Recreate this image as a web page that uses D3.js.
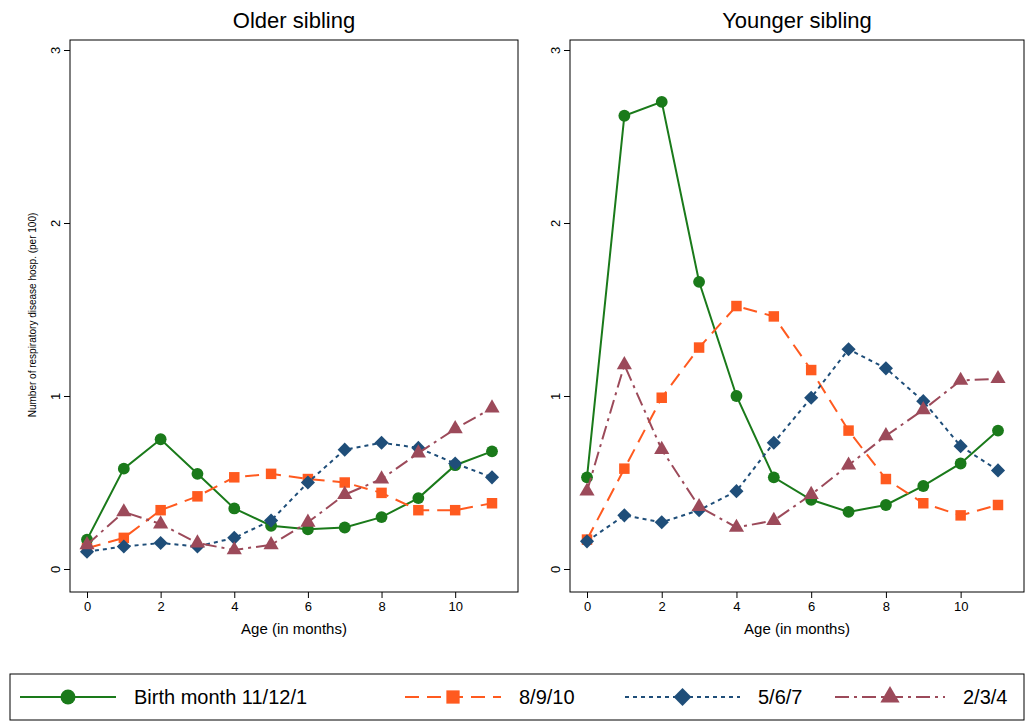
<!DOCTYPE html>
<html><head><meta charset="utf-8">
<script src="https://cdn.jsdelivr.net/npm/d3@7"></script>
<style>body{margin:0;background:#fff;font-family:Arial,"Liberation Sans",sans-serif}</style>
</head><body><svg id="chart" width="1026" height="721"></svg>
<script>
var months = [0,1,2,3,4,5,6,7,8,9,10,11];
var xTicks = [0,2,4,6,8,10];
var yTicks = [0,1,2,3];
var panelTitles = ['Older sibling','Younger sibling'];
var seriesNames = ['Birth month 11/12/1','8/9/10','5/6/7','2/3/4'];
var olderGreen  = [0.17,0.58,0.75,0.55,0.35,0.25,0.23,0.24,0.30,0.41,0.60,0.68];
var olderOrange = [0.12,0.18,0.34,0.42,0.53,0.55,0.52,0.50,0.44,0.34,0.34,0.38];
var olderBlue   = [0.10,0.13,0.15,0.13,0.18,0.28,0.50,0.69,0.73,0.70,0.61,0.53];
var olderRed    = [0.14,0.33,0.26,0.15,0.11,0.14,0.27,0.43,0.52,0.67,0.81,0.93];
var youngerGreen  = [0.53,2.62,2.70,1.66,1.00,0.53,0.40,0.33,0.37,0.48,0.61,0.80];
var youngerOrange = [0.17,0.58,0.99,1.28,1.52,1.46,1.15,0.80,0.52,0.38,0.31,0.37];
var youngerBlue   = [0.16,0.31,0.27,0.34,0.45,0.73,0.99,1.27,1.16,0.97,0.71,0.57];
var youngerRed    = [0.45,1.18,0.69,0.36,0.24,0.28,0.43,0.60,0.77,0.92,1.09,1.10];

var styles = [
  {color:'#1a7a1a', dash:null, shape:d3.symbolCircle, size:110, rot:0},
  {color:'#ff5a1f', dash:'14,8', shape:d3.symbolSquare, size:110, rot:0},
  {color:'#1f4e79', dash:'4,4', shape:d3.symbolSquare, size:100, rot:45},
  {color:'#9c4a5a', dash:'14,5,3,5', shape:d3.symbolTriangle, size:100, rot:0}
];
var panels = [
  {title:panelTitles[0], left:70, right:518, data:[olderGreen,olderOrange,olderBlue,olderRed]},
  {title:panelTitles[1], left:570, right:1024, data:[youngerGreen,youngerOrange,youngerBlue,youngerRed]}
];
var plotTop = 40, plotBottom = 592;
var svg = d3.select('#chart');

panels.forEach(function(p){
  var x = d3.scaleLinear().domain([0,11]).range([p.left+17, p.right-26]);
  var y = d3.scaleLinear().domain([0,3]).range([569, 50]);
  svg.append('rect').attr('x',p.left).attr('y',plotTop).attr('width',p.right-p.left).attr('height',plotBottom-plotTop)
    .attr('fill','none').attr('stroke','#000').attr('stroke-width',1);
  svg.append('text').attr('x',(p.left+p.right)/2).attr('y',28).attr('text-anchor','middle')
    .attr('font-size',22).text(p.title);
  var gx = svg.append('g').attr('transform','translate(0,'+plotBottom+')')
    .call(d3.axisBottom(x).tickValues(xTicks).tickSize(6).tickPadding(4));
  gx.select('.domain').remove();
  gx.selectAll('text').attr('font-size',13).attr('font-family','Arial,"Liberation Sans",sans-serif');
  var gy = svg.append('g').attr('transform','translate('+p.left+',0)')
    .call(d3.axisLeft(y).tickValues(yTicks).tickFormat(d3.format('d')).tickSize(6).tickPadding(4));
  gy.select('.domain').remove();
  gy.selectAll('text').attr('font-size',13).attr('font-family','Arial,"Liberation Sans",sans-serif')
    .attr('x',-14).attr('dy','0.32em').attr('text-anchor','middle')
    .attr('transform','rotate(-90,-14,0)');
  svg.append('text').attr('x',(p.left+p.right)/2).attr('y',634).attr('text-anchor','middle')
    .attr('font-size',15).text('Age (in months)');
  var line = d3.line().x(function(d,i){return x(months[i]);}).y(function(d){return y(d);});
  p.data.forEach(function(vals,k){
    var s = styles[k];
    svg.append('path').datum(vals).attr('d',line).attr('fill','none').attr('stroke',s.color)
      .attr('stroke-width',2).attr('stroke-dasharray',s.dash);
    svg.selectAll(null).data(vals).enter().append('path')
      .attr('d',d3.symbol().type(s.shape).size(s.size))
      .attr('transform',function(d,i){return 'translate('+x(months[i])+','+y(d)+') rotate('+s.rot+')';})
      .attr('fill',s.color);
  });
});
svg.append('text').attr('transform','translate(36,315) rotate(-90)').attr('text-anchor','middle')
  .attr('font-size',10).text('Number of respiratory disease hosp. (per 100)');

// legend
svg.append('rect').attr('x',10).attr('y',674).attr('width',1014).attr('height',46)
  .attr('fill','none').attr('stroke','#000');
var legendX = [20,405,625,835];
var legendLineW = [96,96,115,110];
seriesNames.forEach(function(n,k){
  var s = styles[k], g = svg.append('g').attr('transform','translate('+legendX[k]+',697)');
  g.append('line').attr('x1',0).attr('x2',legendLineW[k]).attr('stroke',s.color).attr('stroke-width',2).attr('stroke-dasharray',s.dash);
  g.append('path').attr('d',d3.symbol().type(s.shape).size(s.size*1.6)).attr('transform','translate('+legendLineW[k]/2+',0) rotate('+s.rot+')').attr('fill',s.color);
  g.append('text').attr('x',legendLineW[k]+18).attr('dy','0.35em').attr('font-size',20).text(n);
});
</script></body></html>
